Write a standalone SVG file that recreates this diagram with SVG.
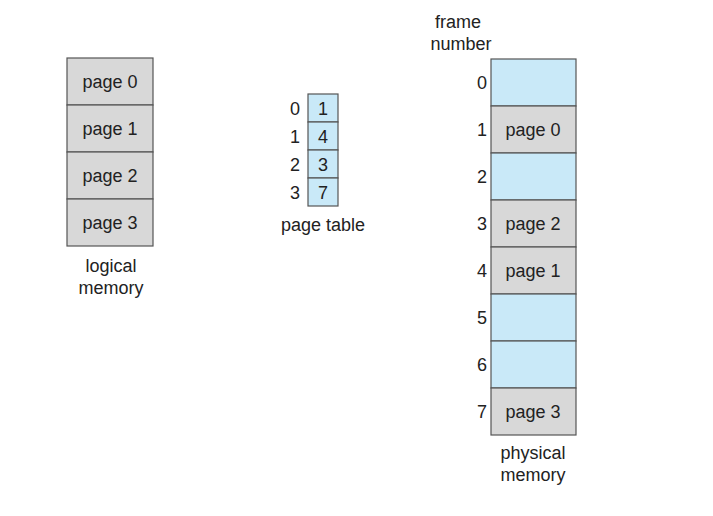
<svg xmlns="http://www.w3.org/2000/svg" width="713" height="516" viewBox="0 0 713 516">
<style>
text{font-family:"Liberation Sans",Arial,sans-serif;font-size:18px;fill:#222;}
.c{text-anchor:middle;}
.r{text-anchor:end;}
.g{fill:#d8d8d8;stroke:#555;stroke-width:1.2;}
.b{fill:#c9e9f8;stroke:#555;stroke-width:1.2;}
</style>
<rect width="713" height="516" fill="#fff"/>
<g id="logical-memory">
<rect class="g" x="67" y="58" width="86" height="47"/>
<rect class="g" x="67" y="105" width="86" height="47"/>
<rect class="g" x="67" y="152" width="86" height="47"/>
<rect class="g" x="67" y="199" width="86" height="47"/>
<text class="c" x="110" y="88">page 0</text>
<text class="c" x="110" y="135">page 1</text>
<text class="c" x="110" y="182">page 2</text>
<text class="c" x="110" y="229">page 3</text>
<text class="c" x="111" y="272">logical</text>
<text class="c" x="111" y="294">memory</text>
</g>
<g id="page-table">
<rect class="b" x="308" y="94" width="30" height="28"/>
<rect class="b" x="308" y="122" width="30" height="28"/>
<rect class="b" x="308" y="150" width="30" height="28"/>
<rect class="b" x="308" y="178" width="30" height="28"/>
<text class="c" x="323" y="115">1</text>
<text class="c" x="323" y="143">4</text>
<text class="c" x="323" y="171">3</text>
<text class="c" x="323" y="199">7</text>
<text class="r" x="300" y="115">0</text>
<text class="r" x="300" y="143">1</text>
<text class="r" x="300" y="171">2</text>
<text class="r" x="300" y="199">3</text>
<text class="c" x="323" y="231">page table</text>
</g>
<g id="physical-memory">
<rect class="b" x="491" y="59" width="85" height="47"/>
<rect class="g" x="491" y="106" width="85" height="47"/>
<rect class="b" x="491" y="153" width="85" height="47"/>
<rect class="g" x="491" y="200" width="85" height="47"/>
<rect class="g" x="491" y="247" width="85" height="47"/>
<rect class="b" x="491" y="294" width="85" height="47"/>
<rect class="b" x="491" y="341" width="85" height="47"/>
<rect class="g" x="491" y="388" width="85" height="47"/>
<text class="c" x="533" y="136">page 0</text>
<text class="c" x="533" y="230">page 2</text>
<text class="c" x="533" y="277">page 1</text>
<text class="c" x="533" y="418">page 3</text>
<text class="r" x="487" y="89">0</text>
<text class="r" x="487" y="136">1</text>
<text class="r" x="487" y="183">2</text>
<text class="r" x="487" y="230">3</text>
<text class="r" x="487" y="277">4</text>
<text class="r" x="487" y="324">5</text>
<text class="r" x="487" y="371">6</text>
<text class="r" x="487" y="418">7</text>
<text class="c" x="458" y="28">frame</text>
<text class="c" x="461" y="50">number</text>
<text class="c" x="533" y="459">physical</text>
<text class="c" x="533" y="481">memory</text>
</g>
<g id="connectors"></g>
</svg>
